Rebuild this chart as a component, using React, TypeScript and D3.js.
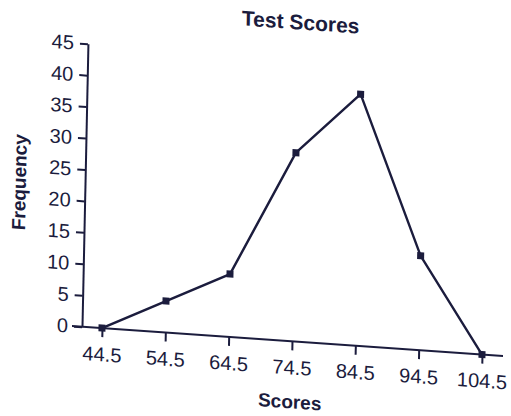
import React, { useEffect, useRef } from 'react';
import * as d3 from 'd3';

const scores = [44.5, 54.5, 64.5, 74.5, 84.5, 94.5, 104.5];
const frequency = [0, 5, 10, 30, 40, 15, 0];
const yTicks = [0, 5, 10, 15, 20, 25, 30, 35, 40, 45];

const INK = '#1b1c3d';
const FONT = '"Liberation Sans", Arial, sans-serif';

const App: React.FC = () => {
  const ref = useRef<SVGSVGElement>(null);

  useEffect(() => {
    if (!ref.current) return;
    const root = d3.select(ref.current);
    root.selectAll('*').remove();

    // the printed page was photographed at a slight angle, so skew the whole plot
    const g = root.append('g')
      .attr('transform', 'matrix(1,0.0696,-0.021,1,82,326.7)');

    const x = d3.scaleLinear().domain([44.5, 104.5]).range([20, 400]);
    const y = d3.scaleLinear().domain([0, 45]).range([0, -283]);

    // title
    g.append('text')
      .attr('x', 212)
      .attr('y', -312)
      .attr('text-anchor', 'middle')
      .attr('font-family', FONT)
      .attr('font-size', 21)
      .attr('font-weight', 'bold')
      .attr('fill', INK)
      .text('Test Scores');

    // y axis
    const yAxis = g.append('g')
      .call(d3.axisLeft(y).tickValues(yTicks).tickSize(8).tickPadding(6).tickSizeOuter(0));
    yAxis.select('.domain').attr('stroke', INK).attr('stroke-width', 2);
    yAxis.selectAll('.tick line').attr('stroke', INK).attr('stroke-width', 2);
    yAxis.selectAll('.tick text')
      .attr('font-family', FONT)
      .attr('font-size', 20)
      .attr('fill', INK);

    // x axis
    const xAxis = g.append('g')
      .call(d3.axisBottom(x).tickValues(scores).tickSize(9).tickPadding(10).tickFormat(d3.format('.1f')).tickSizeOuter(0));
    xAxis.select('.domain')
      .attr('d', 'M-10,0H421')
      .attr('stroke', INK)
      .attr('stroke-width', 2);
    xAxis.selectAll('.tick line').attr('stroke', INK).attr('stroke-width', 2);
    xAxis.selectAll('.tick text')
      .attr('font-family', FONT)
      .attr('font-size', 20)
      .attr('fill', INK);

    // axis titles
    g.append('text')
      .attr('transform', 'translate(-59,-140) rotate(-90)')
      .attr('text-anchor', 'middle')
      .attr('font-family', FONT)
      .attr('font-size', 19)
      .attr('font-weight', 'bold')
      .attr('fill', INK)
      .text('Frequency');

    g.append('text')
      .attr('x', 209)
      .attr('y', 67)
      .attr('text-anchor', 'middle')
      .attr('font-family', FONT)
      .attr('font-size', 19)
      .attr('font-weight', 'bold')
      .attr('fill', INK)
      .text('Scores');

    const pts = scores.map((s, i) => [s, frequency[i]] as [number, number]);

    const line = d3.line<[number, number]>()
      .x(d => x(d[0]))
      .y(d => y(d[1]));

    g.append('path')
      .datum(pts)
      .attr('d', line)
      .attr('fill', 'none')
      .attr('stroke', INK)
      .attr('stroke-width', 2.4)
      .attr('stroke-linejoin', 'round');

    g.selectAll('rect.marker')
      .data(pts)
      .enter()
      .append('rect')
      .attr('class', 'marker')
      .attr('x', d => x(d[0]) - 3.5)
      .attr('y', d => y(d[1]) - 3.5)
      .attr('width', 7)
      .attr('height', 7)
      .attr('fill', INK);
  }, []);

  return (
    <svg
      ref={ref}
      width={511}
      height={416}
      style={{ position: 'absolute', left: 0, top: 0, background: '#fff' }}
    />
  );
};

export default App;
